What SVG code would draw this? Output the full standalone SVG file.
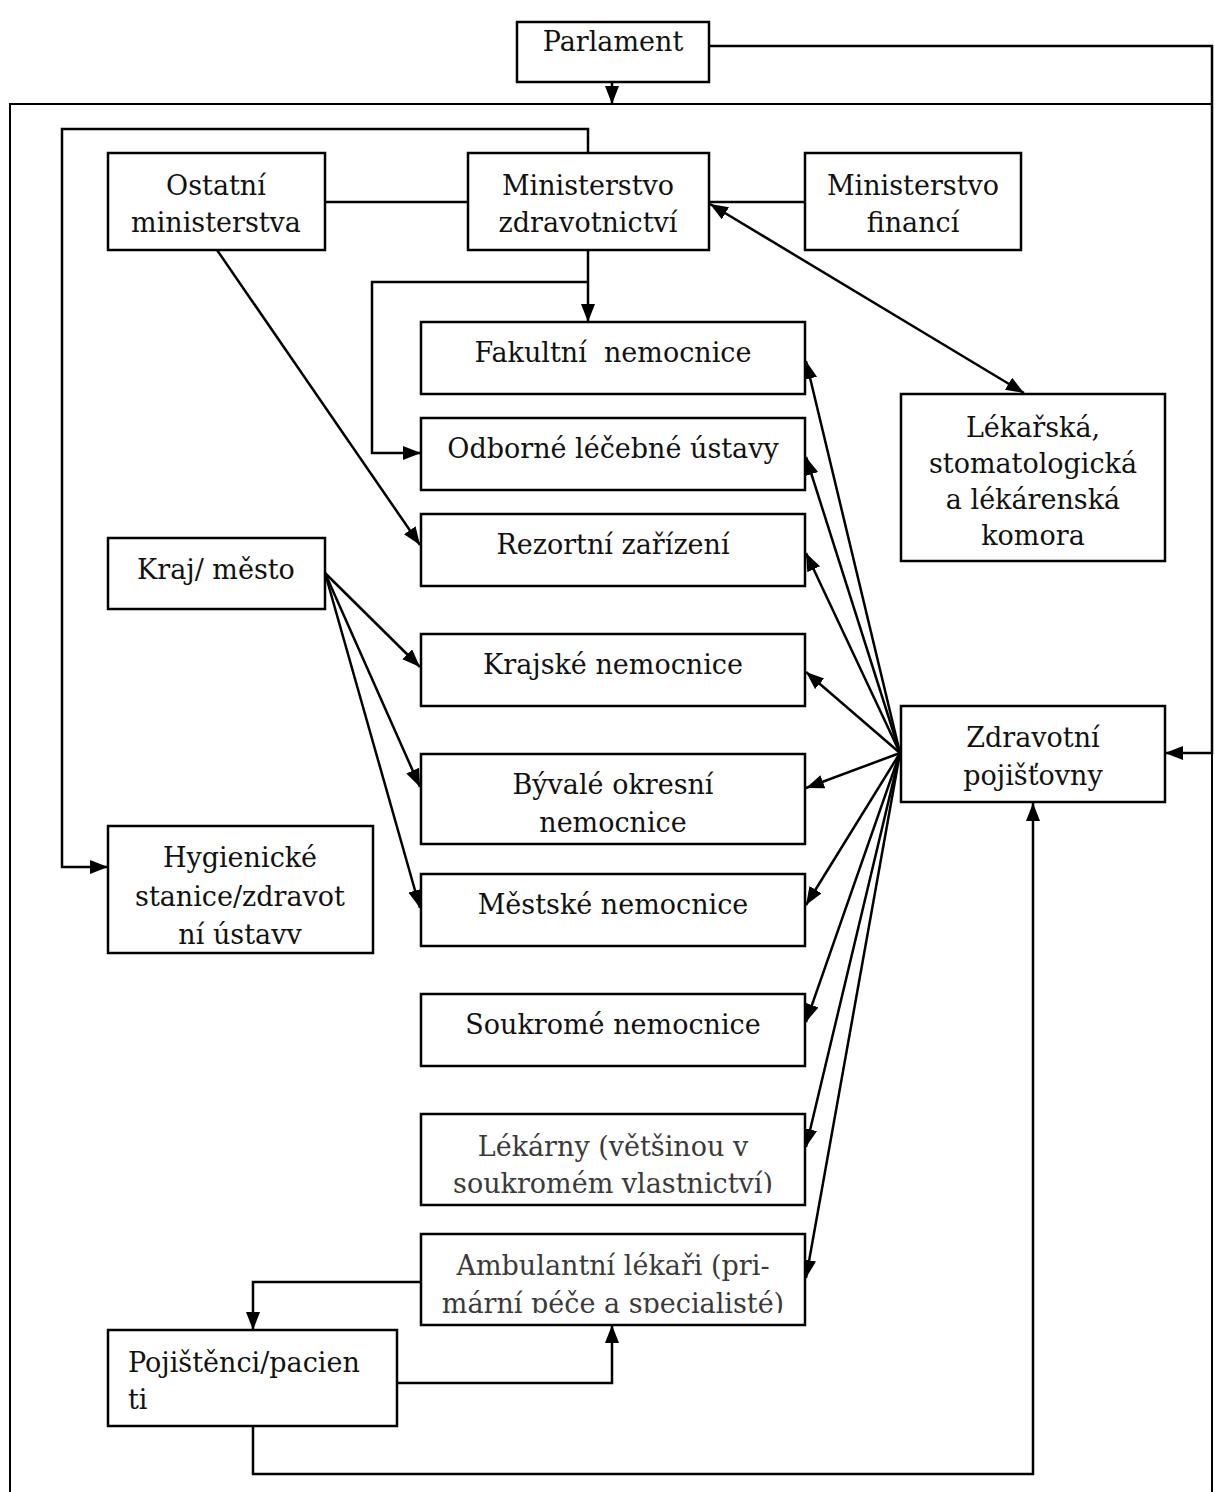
<svg xmlns="http://www.w3.org/2000/svg" width="1215" height="1492" viewBox="0 0 1215 1492">
  <style>
    .box { fill: #fff; stroke: #000; stroke-width: 2.5; }
    .t { font-family: "DejaVu Serif", "Liberation Serif", serif; font-size: 27px; fill: #111; text-anchor: middle; }
    .tl { text-anchor: start; }
    .g { fill: #3a3a3a; }
    .c { fill: none; stroke: #000; stroke-width: 2.5; }
    .ca { fill: none; stroke: #000; stroke-width: 2.5; marker-end: url(#ah); }
    .cd { fill: none; stroke: #000; stroke-width: 2.5; marker-start: url(#ah); marker-end: url(#ah); }
  </style>
  <defs>
    <marker id="ah" markerUnits="userSpaceOnUse" markerWidth="20" markerHeight="16" refX="18" refY="7" orient="auto-start-reverse">
      <path d="M0,0 L18,7 L0,14 z" fill="#000"/>
    </marker>
    <clipPath id="clipHyg"><rect x="108" y="826" width="265" height="118"/></clipPath>
    <clipPath id="clipLek"><rect x="421" y="1114" width="384" height="79"/></clipPath>
    <clipPath id="clipAmb"><rect x="421" y="1234" width="384" height="79"/></clipPath>
  </defs>

  <rect width="1215" height="1492" fill="#fff"/>

  <!-- outer frame of the health system -->
  <rect x="10" y="104" width="1202" height="1420" fill="none" stroke="#000" stroke-width="2"/>

  <!-- connectors -->
  <g id="connectors">
    <!-- Parlament -->
    <path class="ca" d="M612,82 V104"/>
    <path class="ca" d="M709,46 H1212 V753 H1165"/>
    <!-- ministries -->
    <path class="ca" d="M588,153 V129 H62 V867 H108"/>
    <path class="c" d="M325,202 H468"/>
    <path class="c" d="M709,202 H805"/>
    <path class="cd" d="M710,204 L1024,393"/>
    <path class="ca" d="M588,250 V322"/>
    <path class="ca" d="M588,282 H372 V453 H421"/>
    <path class="ca" d="M217,250 L420,545"/>
    <!-- regions / cities -->
    <path class="ca" d="M325,573 L420,667"/>
    <path class="ca" d="M325,573 L420,787"/>
    <path class="ca" d="M325,573 L420,908"/>
    <!-- health insurance companies -->
    <path class="ca" d="M900,753 L806,361"/>
    <path class="ca" d="M900,753 L806,457"/>
    <path class="ca" d="M900,753 L806,553"/>
    <path class="ca" d="M900,753 L806,672"/>
    <path class="ca" d="M900,753 L806,788"/>
    <path class="ca" d="M900,753 L806,905"/>
    <path class="ca" d="M900,753 L806,1022"/>
    <path class="ca" d="M900,753 L806,1147"/>
    <path class="ca" d="M900,753 L806,1278"/>
    <!-- patients -->
    <path class="ca" d="M421,1282 H253 V1330"/>
    <path class="ca" d="M397,1383 H612 V1325"/>
    <path class="ca" d="M253,1426 V1474 H1033 V803"/>
  </g>

  <g id="parlament">
    <rect class="box" x="517" y="22" width="192" height="60"/>
    <text class="t" x="613" y="51">Parlament</text>
  </g>

  <g id="ostatni-ministerstva">
    <rect class="box" x="108" y="153" width="217" height="97"/>
    <text class="t" x="216" y="195">Ostatní</text>
    <text class="t" x="216" y="232">ministerstva</text>
  </g>

  <g id="ministerstvo-zdravotnictvi">
    <rect class="box" x="468" y="153" width="241" height="97"/>
    <text class="t" x="588" y="195">Ministerstvo</text>
    <text class="t" x="588" y="232">zdravotnictví</text>
  </g>

  <g id="ministerstvo-financi">
    <rect class="box" x="805" y="153" width="216" height="97"/>
    <text class="t" x="913" y="195">Ministerstvo</text>
    <text class="t" x="913" y="232">financí</text>
  </g>

  <g id="fakultni-nemocnice">
    <rect class="box" x="421" y="322" width="384" height="72"/>
    <text class="t" x="613" y="362" xml:space="preserve">Fakultní  nemocnice</text>
  </g>

  <g id="odborne-lecebne-ustavy">
    <rect class="box" x="421" y="418" width="384" height="72"/>
    <text class="t" x="613" y="458">Odborné léčebné ústavy</text>
  </g>

  <g id="rezortni-zarizeni">
    <rect class="box" x="421" y="514" width="384" height="72"/>
    <text class="t" x="613" y="554">Rezortní zařízení</text>
  </g>

  <g id="komora">
    <rect class="box" x="901" y="394" width="264" height="167"/>
    <text class="t" x="1033" y="437">Lékařská,</text>
    <text class="t" x="1033" y="473">stomatologická</text>
    <text class="t" x="1033" y="509">a lékárenská</text>
    <text class="t" x="1033" y="545">komora</text>
  </g>

  <g id="kraj-mesto">
    <rect class="box" x="108" y="538" width="217" height="71"/>
    <text class="t" x="216" y="579">Kraj/ město</text>
  </g>

  <g id="krajske-nemocnice">
    <rect class="box" x="421" y="634" width="384" height="72"/>
    <text class="t" x="613" y="674">Krajské nemocnice</text>
  </g>

  <g id="zdravotni-pojistovny">
    <rect class="box" x="901" y="706" width="264" height="96"/>
    <text class="t" x="1033" y="747">Zdravotní</text>
    <text class="t" x="1033" y="785">pojišťovny</text>
  </g>

  <g id="byvale-okresni-nemocnice">
    <rect class="box" x="421" y="754" width="384" height="90"/>
    <text class="t" x="613" y="794">Bývalé okresní</text>
    <text class="t" x="613" y="832">nemocnice</text>
  </g>

  <g id="hygienicke-stanice">
    <rect class="box" x="108" y="826" width="265" height="127"/>
    <g clip-path="url(#clipHyg)">
      <text class="t" x="240" y="867">Hygienické</text>
      <text class="t" x="240" y="906">stanice/zdravot</text>
      <text class="t" x="240" y="944">ní ústavy</text>
    </g>
  </g>

  <g id="mestske-nemocnice">
    <rect class="box" x="421" y="874" width="384" height="72"/>
    <text class="t" x="613" y="914">Městské nemocnice</text>
  </g>

  <g id="soukrome-nemocnice">
    <rect class="box" x="421" y="994" width="384" height="72"/>
    <text class="t" x="613" y="1034">Soukromé nemocnice</text>
  </g>

  <g id="lekarny">
    <rect class="box" x="421" y="1114" width="384" height="91"/>
    <g clip-path="url(#clipLek)">
      <text class="t g" x="613" y="1156">Lékárny (většinou v</text>
      <text class="t g" x="613" y="1193">soukromém vlastnictví)</text>
    </g>
  </g>

  <g id="ambulantni-lekari">
    <rect class="box" x="421" y="1234" width="384" height="91"/>
    <g clip-path="url(#clipAmb)">
      <text class="t g" x="613" y="1275">Ambulantní lékaři (pri-</text>
      <text class="t g" x="613" y="1313">mární péče a specialisté)</text>
    </g>
  </g>

  <g id="pojistenci">
    <rect class="box" x="108" y="1330" width="289" height="96"/>
    <text class="t tl" x="128" y="1372">Pojištěnci/pacien</text>
    <text class="t tl" x="128" y="1409">ti</text>
  </g>
</svg>
